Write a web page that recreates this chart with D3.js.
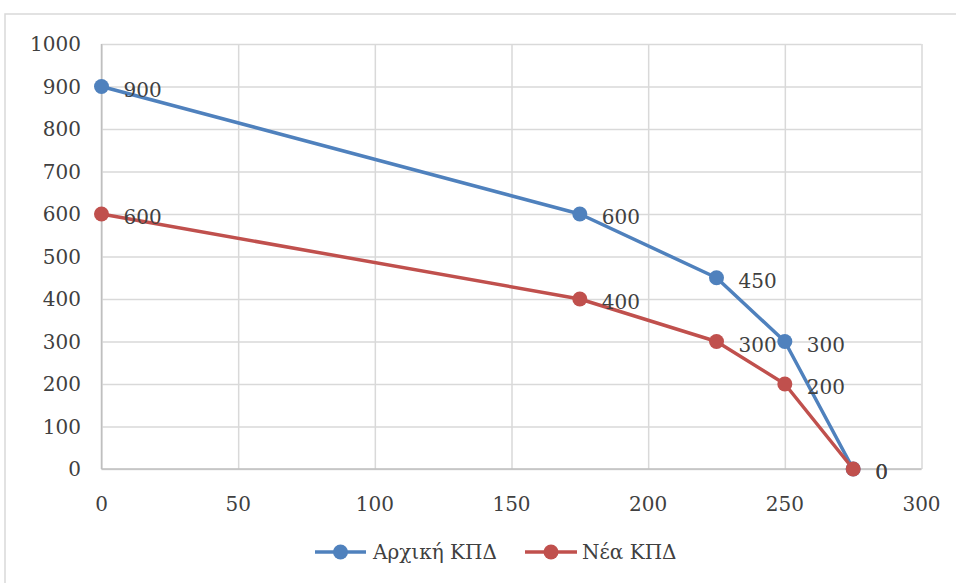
<!DOCTYPE html>
<html>
<head>
<meta charset="utf-8">
<script src="https://cdn.jsdelivr.net/npm/d3@7"></script>
<style>
  body { margin: 0; background: #fff; }
  text { font-family: "DejaVu Serif", serif; fill: #404040; }
</style>
</head>
<body>
<svg id="chart" width="956" height="583"></svg>
<script>
// data
var seriesNames = ["Αρχική ΚΠΔ", "Νέα ΚΠΔ"];
var xValues = [0, 175, 225, 250, 275];
var initialValues = [900, 600, 450, 300, 0];
var newValues = [600, 400, 300, 200, 0];
var xTicks = [0, 50, 100, 150, 200, 250, 300];
var yTicks = [0, 100, 200, 300, 400, 500, 600, 700, 800, 900, 1000];
var colors = ["#4F81BD", "#C0504D"];

var svg = d3.select("#chart");
var fontSize = "20px";

// outer chart border (runs off the page on the right and bottom)
svg.append("rect")
    .attr("x", 5).attr("y", 14)
    .attr("width", 1000).attr("height", 700)
    .style("fill", "none")
    .style("stroke", "#D9D9D9")
    .style("stroke-width", 1.5);

var xScale = d3.scaleLinear().domain([0, 300]).range([101.5, 921.5]);
var yScale = d3.scaleLinear().domain([0, 1000]).range([469, 44]);

// grid lines
svg.append("g")
    .attr("class", "grid")
    .attr("transform", `translate(0,${yScale(0)})`)
    .call(d3.axisBottom(xScale).tickValues(xTicks).tickSize(-(yScale(0) - yScale(1000))).tickFormat(""));
svg.append("g")
    .attr("class", "grid")
    .attr("transform", `translate(${xScale(0)},0)`)
    .call(d3.axisLeft(yScale).tickValues(yTicks).tickSize(-(xScale(300) - xScale(0))).tickFormat(""));
svg.selectAll(".grid line")
    .style("stroke", "#D9D9D9")
    .style("stroke-width", 1.5);
svg.selectAll(".grid path").remove();

// axis lines
svg.append("line")
    .attr("x1", xScale(0)).attr("x2", xScale(300))
    .attr("y1", yScale(0)).attr("y2", yScale(0))
    .style("stroke", "#BFBFBF").style("stroke-width", 1.5);
svg.append("line")
    .attr("x1", xScale(0)).attr("x2", xScale(0))
    .attr("y1", yScale(0)).attr("y2", yScale(1000))
    .style("stroke", "#BFBFBF").style("stroke-width", 1.5);

// tick labels
svg.selectAll(".ylab")
    .data(yTicks)
    .enter().append("text")
    .attr("class", "ylab")
    .attr("x", 81)
    .attr("y", d => yScale(d))
    .attr("dy", "0.35em")
    .attr("text-anchor", "end")
    .style("font-size", fontSize)
    .text(d => d);

svg.selectAll(".xlab")
    .data(xTicks)
    .enter().append("text")
    .attr("class", "xlab")
    .attr("x", d => xScale(d))
    .attr("y", 504)
    .attr("dy", "0.35em")
    .attr("text-anchor", "middle")
    .style("font-size", fontSize)
    .text(d => d);

// series
var series = [initialValues, newValues].map((vals, i) => ({
    name: seriesNames[i],
    color: colors[i],
    points: xValues.map((x, j) => ({ x: x, y: vals[j] }))
}));

var line = d3.line().x(d => xScale(d.x)).y(d => yScale(d.y));

series.forEach(function(s) {
    svg.append("path")
        .datum(s.points)
        .attr("d", line)
        .style("fill", "none")
        .style("stroke", s.color)
        .style("stroke-width", 3.5)
        .style("stroke-linejoin", "round");
});

series.forEach(function(s) {
    svg.selectAll(null)
        .data(s.points)
        .enter().append("circle")
        .attr("cx", d => xScale(d.x))
        .attr("cy", d => yScale(d.y))
        .attr("r", 7.5)
        .style("fill", s.color);
});

// data labels to the right of each point
series.forEach(function(s) {
    svg.selectAll(null)
        .data(s.points)
        .enter().append("text")
        .attr("x", d => xScale(d.x) + 22)
        .attr("y", d => yScale(d.y) + 3)
        .attr("dy", "0.35em")
        .style("font-size", fontSize)
        .text(d => d.y);
});

// legend
var legendItems = [
    { name: seriesNames[0], color: colors[0], x1: 315, x2: 366, tx: 373 },
    { name: seriesNames[1], color: colors[1], x1: 525, x2: 577, tx: 582 }
];
var legendY = 552;
legendItems.forEach(function(d) {
    svg.append("line")
        .attr("x1", d.x1).attr("x2", d.x2)
        .attr("y1", legendY).attr("y2", legendY)
        .style("stroke", d.color).style("stroke-width", 3.5);
    svg.append("circle")
        .attr("cx", (d.x1 + d.x2) / 2).attr("cy", legendY)
        .attr("r", 7.5)
        .style("fill", d.color);
    svg.append("text")
        .attr("x", d.tx).attr("y", legendY)
        .attr("dy", "0.35em")
        .style("font-size", fontSize)
        .text(d.name);
});
</script>
</body>
</html>
